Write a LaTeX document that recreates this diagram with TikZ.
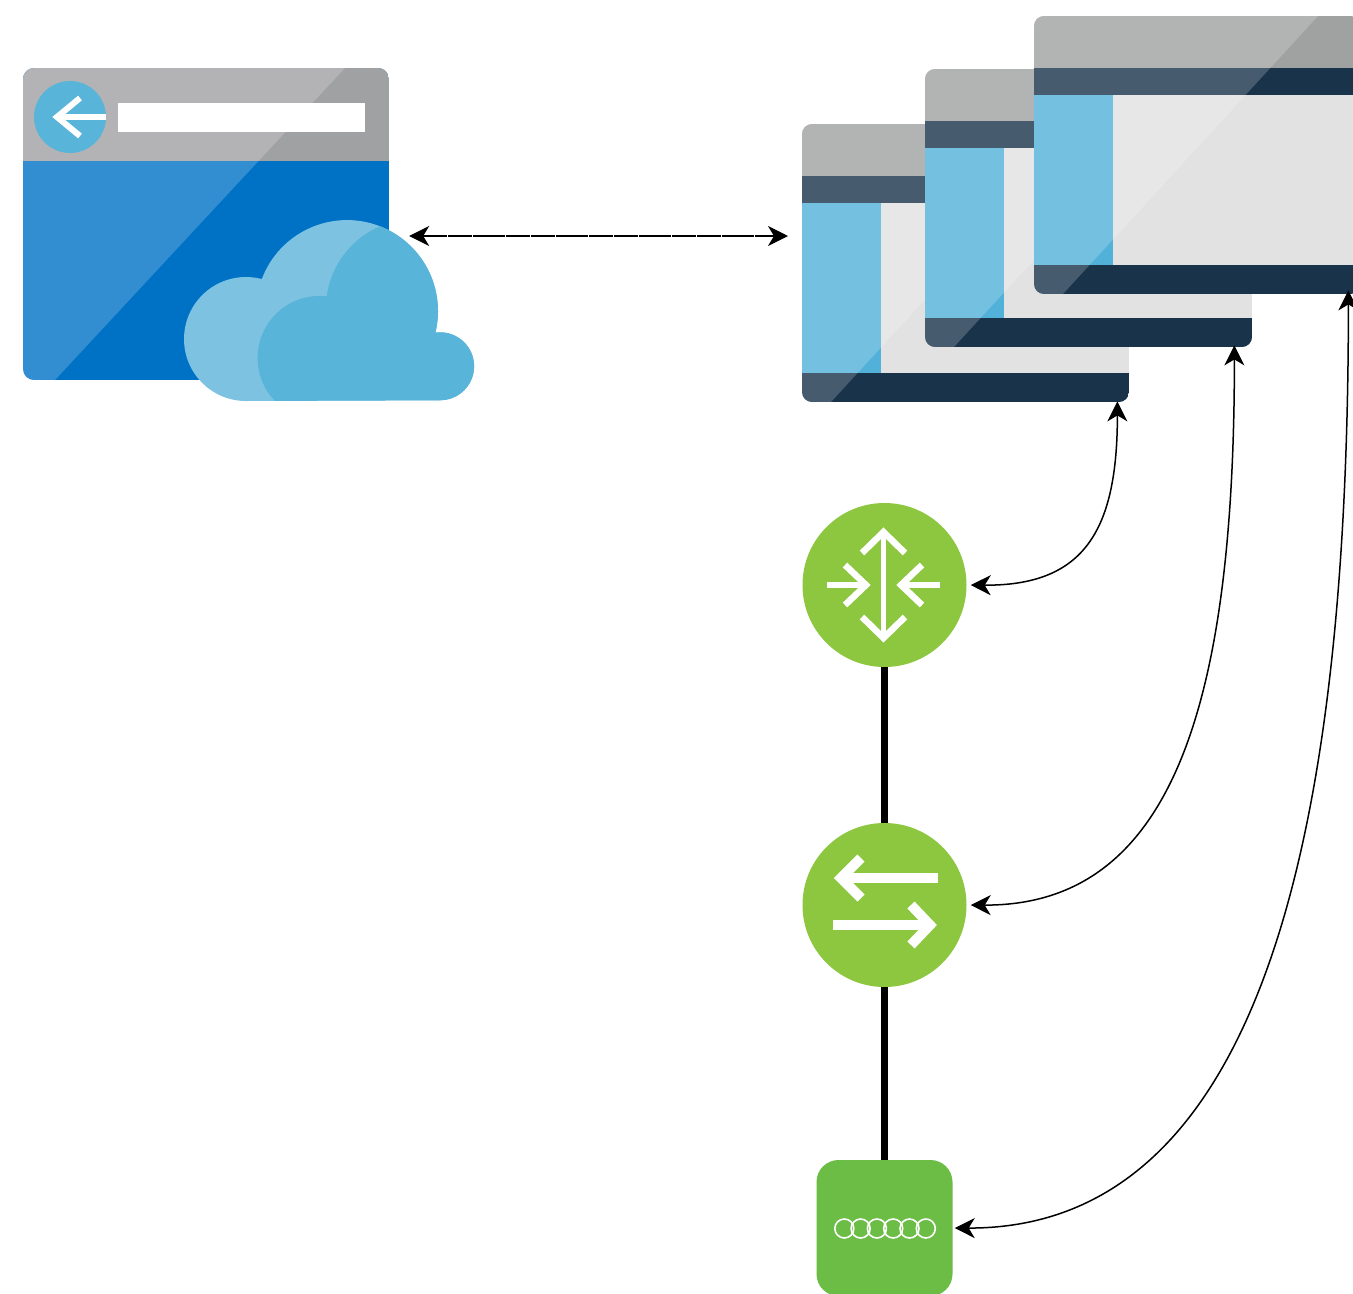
\documentclass[tikz,border=0pt]{standalone}
\usetikzlibrary{arrows.meta,shapes.geometric}
\definecolor{gtitle}{HTML}{A0A1A3}
\definecolor{wtitle}{HTML}{9FA2A0}
\definecolor{navybar}{HTML}{18334A}
\definecolor{bodygrey}{HTML}{E2E2E2}
\definecolor{sideblue}{HTML}{52B1D9}
\definecolor{azure}{HTML}{0072C6}
\definecolor{cloudlight}{HTML}{7DC3E1}
\definecolor{clouddark}{HTML}{59B4D9}
\definecolor{greenround}{HTML}{8DC63F}
\definecolor{greenbox}{HTML}{6BBD45}
\tikzset{
  x=1pt,y=-1pt,
  winframe/.style={rectangle,minimum width=327pt,minimum height=278pt,inner sep=0pt,anchor=north west},
  webframe/.style={rectangle,minimum width=366pt,minimum height=312pt,inner sep=0pt,anchor=north west},
  roundicon/.style={circle,fill=greenround,minimum size=164pt,inner sep=0pt},
  boxicon/.style={rectangle,rounded corners=22pt,fill=greenbox,minimum size=136pt,inner sep=0pt},
  wire/.style={line width=7.5pt,black},
  link/.style={line width=1.5pt,black,{Stealth[length=20pt,width=20pt,inset=6pt]}-{Stealth[length=20pt,width=20pt,inset=6pt]}},
  glyph/.style={white,line width=6.5pt,line join=miter},
  glyphbold/.style={white,line width=10pt,line join=miter},
  sheen/.style={white,fill opacity=.2},
}
\newcommand{\cloudoutline}{(246,401) arc[start angle=90,end angle=284.8,radius=62]
  arc[start angle=200.6,end angle=373.7,radius=91]
  arc[start angle=262,end angle=450,radius=34] -- cycle}
% #1 name, #2 x, #3 y
\newcommand{\appwindow}[3]{%
  \node[winframe] (#1) at (#2,#3) {};
  \begin{scope}[shift={(#2,#3)}]
    \clip[rounded corners=10pt] (0,0) rectangle (327,278);
    \fill[bodygrey] (0,0) rectangle (327,278);
    \fill[wtitle] (0,0) rectangle (327,53);
    \fill[navybar] (0,52) rectangle (327,79);
    \fill[sideblue] (0,79) rectangle (79,249);
    \fill[navybar] (0,249) rectangle (327,278);
    \fill[sheen] (0,0) -- (284,0) -- (29,278) -- (0,278) -- cycle;
  \end{scope}}
\begin{document}
\begin{tikzpicture}
\useasboundingbox (0,0) rectangle (1353,1294);
\begin{scope}
\clip (0,0) rectangle (1353,1294);

% web app window
\node[webframe] (web) at (23,68) {};
\begin{scope}
  \clip[rounded corners=11pt] (23,68) rectangle (389,380);
  \fill[azure] (23,68) rectangle (389,380);
  \fill[gtitle] (23,68) rectangle (389,160.5);
  \fill[sheen] (23,68) -- (345,68) -- (55,380) -- (23,380) -- cycle;
\end{scope}
\fill[clouddark] (70,117) circle[radius=36];
\draw[white,line width=5.5pt] (106,117) -- (57,117);
\draw[white,line width=6pt] (80,98) -- (57,117) -- (80,136);
\fill[white] (118,103) rectangle (365,132);

% cloud
\fill[cloudlight] \cloudoutline;
\begin{scope}
  \clip \cloudoutline;
  \fill[clouddark] (275,401) arc[start angle=136,end angle=276.5,radius=62]
    arc[start angle=188,end angle=265,radius=90] -- (500,220) -- (500,410) -- (275,410) -- cycle;
\end{scope}
\node[circle,minimum size=2pt,inner sep=0pt] (cloudport) at (408,236) {};

% stacked windows
\appwindow{wone}{802}{124}
\appwindow{wtwo}{925}{69}
\appwindow{wthree}{1034}{16}

% devices
\node[roundicon] (router) at (884.5,585) {};
\node[roundicon] (switch) at (884.5,905) {};
\node[boxicon] (chip) at (884.5,1228) {};

\draw[wire] (router.south) -- (switch.north);
\draw[wire] (switch.south) -- (chip.north);

% router glyph
\draw[white,line width=5pt] (883.5,535) -- (883.5,635);
\draw[glyph] (862,553) -- (883.5,532) -- (905,553);
\draw[glyph] (862,617) -- (883.5,638) -- (905,617);
\draw[glyph] (827,585) -- (866,585);
\draw[glyph] (845,565) -- (866,585) -- (845,605);
\draw[glyph] (940,585) -- (901,585);
\draw[glyph] (922,565) -- (901,585) -- (922,605);

% switch glyph
\draw[glyphbold] (938,878) -- (842,878);
\draw[glyphbold] (861,858) -- (841,878) -- (861,898);
\draw[glyphbold] (833,925) -- (929,925);
\draw[glyphbold] (911,905) -- (930,925) -- (911,945);

% chip glyph
\foreach \cx in {844.3,860.6,876.9,893.2,909.5,925.8}
  \draw[white,line width=1.6pt] (\cx,1228.5) ellipse[x radius=9.5,y radius=9.5];

% connectors
\draw[link,dash pattern=on 8pt off .3pt] (cloudport) -- ([xshift=-14pt]wone.west |- cloudport);
\draw[link,shorten >=4pt] ([xshift=-12pt,yshift=1pt]wone.south east)
  .. controls +(0,128) and (1085,586) .. (router.east);
\draw[link,shorten >=4pt] ([xshift=-18pt,yshift=2pt]wtwo.south east)
  .. controls +(0,360) and (1172,906) .. (switch.east);
\draw[link,shorten >=2pt] ([xshift=-13pt,yshift=4pt]wthree.south east)
  .. controls +(0,520) and (1270,1229) .. (chip.east);
\end{scope}
\end{tikzpicture}
\end{document}
